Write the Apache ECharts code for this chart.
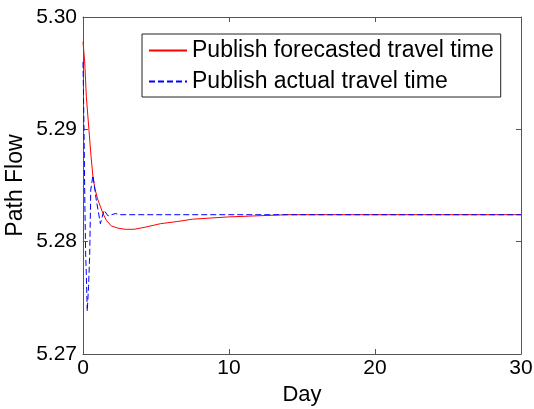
<!DOCTYPE html>
<html>
<head>
    <meta charset="utf-8">
    <title>Path Flow</title>
    <script src="https://cdn.jsdelivr.net/npm/echarts@6/dist/echarts.min.js"></script>
    <style>
    html, body { margin: 0; padding: 0; background: #fff; }
    #main { width: 534px; height: 409px; }
    </style>
</head>
<body>
    <div id="main"></div>
    <script>
    // series names
    const seriesNames = ['Publish forecasted travel time', 'Publish actual travel time'];
    // forecasted (red, solid)
    const redDays = [0, 0.12, 0.23, 0.41, 0.55, 0.68, 0.82, 1.0, 1.2, 1.37, 1.6, 1.94, 2.4, 2.9, 3.5, 4.3, 5.3, 6.5, 7.5, 8.7, 9.9, 11.9, 14, 30];
    const redFlow = [5.2978, 5.2959, 5.2929, 5.2899, 5.2876, 5.2858, 5.2847, 5.2838, 5.2831, 5.2825, 5.2819, 5.2814, 5.2812, 5.2811, 5.2811, 5.2813, 5.2816, 5.2818, 5.2820, 5.2821, 5.2822, 5.2823, 5.2824, 5.2824];
    // actual (blue, dashed)
    const blueDays = [0, 0.07, 0.12, 0.18, 0.23, 0.29, 0.38, 0.46, 0.53, 0.68, 0.9, 1.19, 1.44, 1.71, 2.21, 2.6, 30];
    const blueFlow = [5.2960, 5.2900, 5.2840, 5.2790, 5.2770, 5.2738, 5.2760, 5.2789, 5.2846, 5.2859, 5.2838, 5.2816, 5.2828, 5.2823, 5.2825, 5.2824, 5.2824];

    const font = 'Liberation Sans, Arial, sans-serif';
    const axisColor = '#555';

    function pairs(xs, ys) {
        return xs.map((x, i) => [x, ys[i]]);
    }

    const chart = echarts.init(document.getElementById('main'));

    const xBase = {
        type: 'value', min: 0, max: 30, interval: 10,
        axisLine: { show: true, onZero: false, lineStyle: { color: axisColor, width: 1 } },
        axisTick: { show: true, inside: true, length: 5, lineStyle: { color: axisColor } },
        splitLine: { show: false }
    };
    const yBase = {
        type: 'value', min: 5.27, max: 5.30, interval: 0.01,
        axisLine: { show: true, onZero: false, lineStyle: { color: axisColor, width: 1 } },
        axisTick: { show: true, inside: true, length: 5, lineStyle: { color: axisColor } },
        splitLine: { show: false }
    };

    chart.setOption({
        animation: false,
        backgroundColor: '#fff',
        textStyle: { fontFamily: font },
        grid: { left: 83, right: 13, top: 17, bottom: 55, containLabel: false, outerBoundsMode: 'none' },
        legend: {
            orient: 'vertical',
            left: 142, top: 34,
            padding: [5, 7, 4, 6],
            itemGap: 8,
            itemWidth: 38, itemHeight: 14,
            itemStyle: { opacity: 0 },
            backgroundColor: '#fff',
            borderColor: '#222', borderWidth: 1,
            textStyle: { fontSize: 23, color: '#000', fontFamily: font },
            data: seriesNames
        },
        xAxis: [
            Object.assign({}, xBase, {
                position: 'bottom',
                name: 'Day', nameLocation: 'middle', nameGap: 30, nameMoveOverlap: false,
                nameTextStyle: { fontSize: 22, color: '#000' },
                axisLabel: { fontSize: 21, color: '#000', margin: 4 }
            }),
            Object.assign({}, xBase, { position: 'top', axisLabel: { show: false } })
        ],
        yAxis: [
            Object.assign({}, yBase, {
                position: 'left',
                name: 'Path Flow', nameLocation: 'middle', nameGap: 56, nameMoveOverlap: false,
                nameTextStyle: { fontSize: 23, color: '#000' },
                axisLabel: { fontSize: 21, color: '#000', margin: 6, formatter: v => v.toFixed(2) }
            }),
            Object.assign({}, yBase, { position: 'right', axisLabel: { show: false } })
        ],
        series: [
            {
                name: seriesNames[0], type: 'line', showSymbol: false, symbol: 'none',
                lineStyle: { color: '#ff0000', width: 1 }, itemStyle: { color: '#ff0000' },
                data: pairs(redDays, redFlow)
            },
            {
                name: seriesNames[1], type: 'line', showSymbol: false, symbol: 'none',
                lineStyle: { color: '#0000ff', width: 1, type: [6, 3] }, itemStyle: { color: '#0000ff' },
                data: pairs(blueDays, blueFlow)
            }
        ]
    });
    </script>
</body>
</html>
